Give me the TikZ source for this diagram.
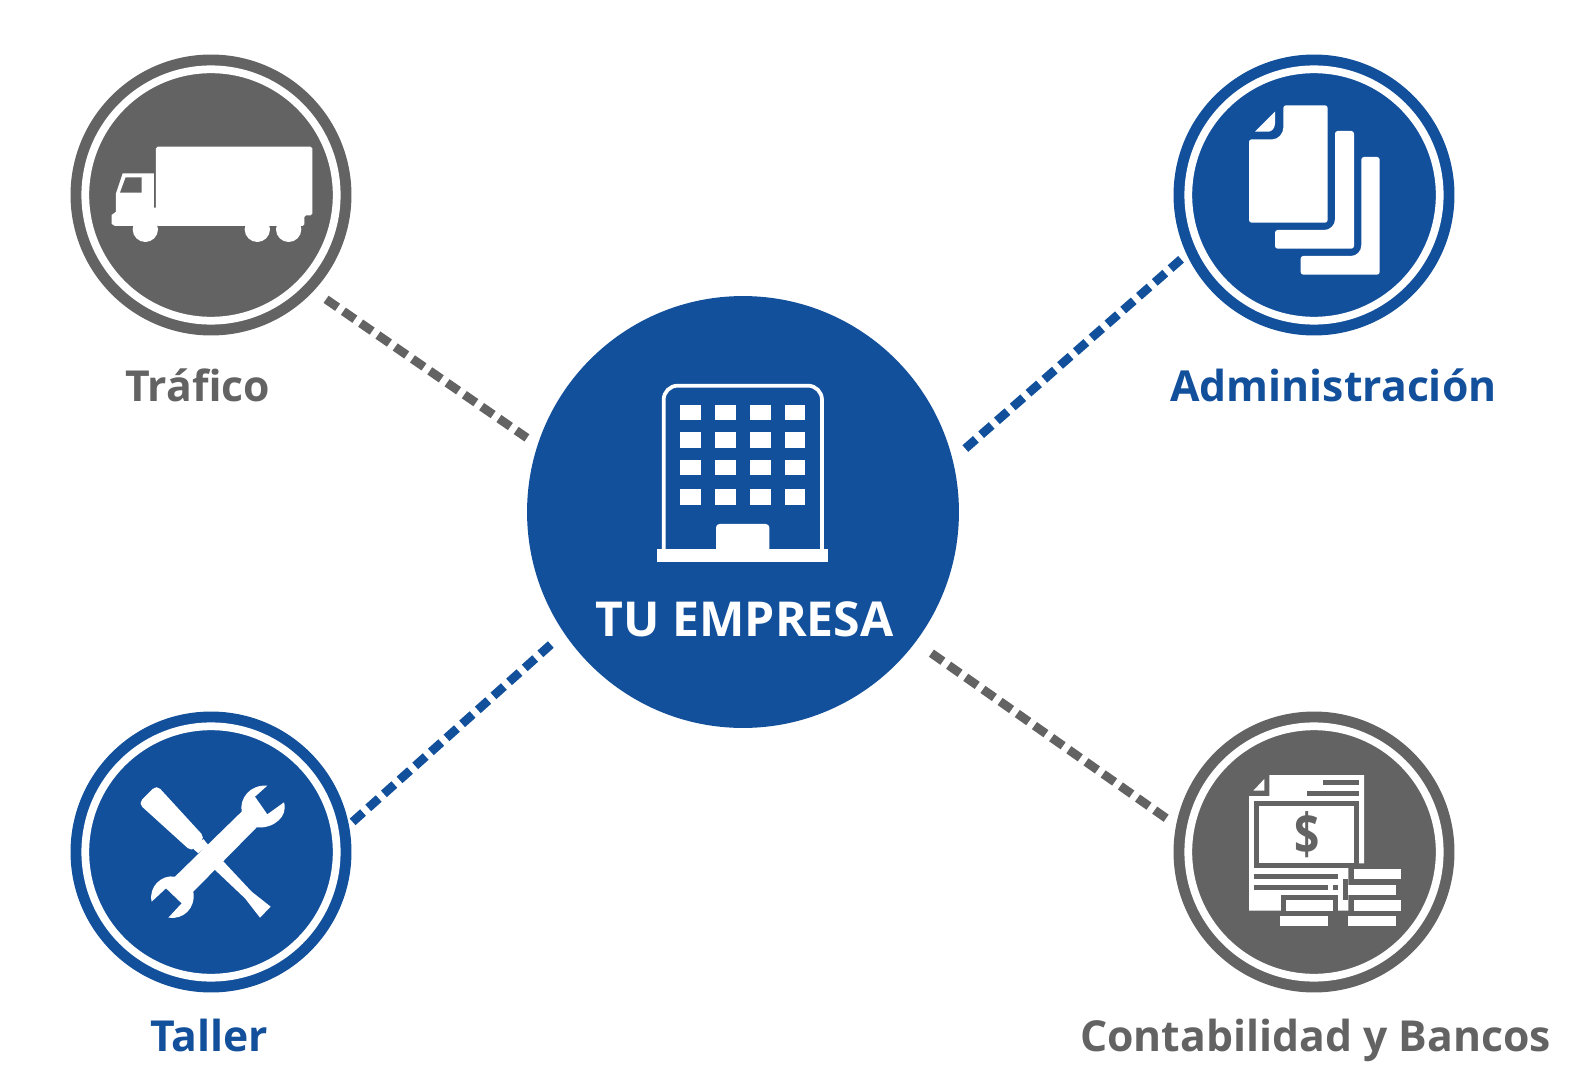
\documentclass[tikz,border=0pt]{standalone}
\usepackage{fontspec}
\setmainfont{Open Sans}
\definecolor{azul}{RGB}{19,80,156}
\definecolor{gris}{RGB}{99,99,99}
\tikzset{
  badge/.style={circle,inner sep=0pt,outer sep=0pt,minimum size=5.62cm,fill=#1},
  ring/.style={draw=white,line width=0.155cm},
  link/.style={draw=#1,line width=0.175cm,dash pattern=on 0.28cm off 0.14cm},
  caption/.style={anchor=base,font=\fontsize{24.3}{28}\selectfont\bfseries,text=#1},
}
\begin{document}
\begin{tikzpicture}
[x=0.02cm,y=-0.02cm]
\useasboundingbox (0,0) rectangle (1579,1078);

\node (empresa) at (743,512)[circle,inner sep=0pt,outer sep=0pt,minimum size=8.64cm,fill=azul]{};
\node (trafico) at (211,195)[badge=gris]{};
\node (admin) at (1314,195)[badge=azul]{};
\node (taller) at (211,852)[badge=azul]{};
\node (bancos) at (1314,852)[badge=gris]{};

\draw [ring] (trafico) circle (125.7);
\draw [ring] (admin) circle (125.7);
\draw [ring] (taller) circle (125.7);
\draw [ring] (bancos) circle (125.7);

\draw [link=gris,shorten <=0.3cm,shorten >=0.26cm] (trafico.-43) -- (empresa.162.5);
\draw [link=azul,shorten <=0.15cm,shorten >=0.34cm] (admin.205) -- (empresa.14.4);
\draw [link=azul,shorten <=0.1cm,shorten >=0.3cm] (taller.11) -- (empresa.214.3);
\draw [link=gris,shorten <=0.39cm,shorten >=0.16cm] (empresa.-37.6) -- (bancos.169.6);

\node (ltrafico) at (197.5,401.5)[caption=gris]{Tráfico};
\node (ladmin) at (1333.5,401)[caption=azul]{Administración};
\node (ltaller) at (209.5,1051)[caption=azul]{Taller};
\node (lbancos) at (1315.5,1051)[caption=gris]{Contabilidad y Bancos};
\node (lempresa) at (744.6,636)[caption=white,font=\fontsize{27.4}{32}\selectfont\bfseries]{TU EMPRESA};

% truck
\begin{scope}[shift={(60,40)},x=0.02cm/3,y=-0.02cm/3]
\fill [white,rounded corners=1pt] (288,320) -- (757,320) -- (757,526) -- (733,526) -- (733,558) -- (288,558) -- cycle;
\fill [white] (188,400) -- (282,400) -- (282,503) -- (288,503) -- (288,558) -- (165,558) -- (155,552) -- (155,525) -- (168,515) -- (168,460) -- cycle;
\fill [gris] (197,412) -- (245,412) -- (245,458) -- (180,458) -- cycle;
\fill [white] (256,568) circle (38);
\fill [white] (592,568) circle (38);
\fill [white] (686,568) circle (38);
\end{scope}

% papers
\begin{scope}[shift={(1155,40)},x=0.02cm/3,y=-0.02cm/3]
\fill [white,rounded corners=1.5pt] (385,196) -- (518,196) -- (518,548) -- (282,548) -- (282,298) -- (345,298) .. controls (370,298) and (385,280) .. (385,255) -- cycle;
\fill [white] (300,275) -- (360,215) -- (360,250) .. controls (360,265) and (350,275) .. (340,275) -- cycle;
\fill [white,rounded corners=1.5pt] (540,273) -- (597,273) -- (597,626) -- (360,626) -- (360,570) -- (500,570) .. controls (525,570) and (540,555) .. (540,530) -- cycle;
\fill [white,rounded corners=1.5pt] (619,351) -- (674,351) -- (674,704) -- (437,704) -- (437,648) -- (580,648) .. controls (605,648) and (619,633) .. (619,608) -- cycle;
\end{scope}

% tools
\begin{scope}[shift={(60,695)},x=0.02cm/3,y=-0.02cm/3]
\fill [white,rounded corners=3pt] (290,270) -- (235,325) -- (395,470) -- (435,428) -- cycle;
\fill [white] (400,462) -- (415,475) -- (445,450) -- (430,432) -- cycle;
\fill [white] (460,520) -- (555,610) -- (600,668) -- (632,635) -- (575,590) -- (488,497) -- cycle;
\fill [white] (545,350) .. controls (538,310) and (570,268) .. (622,272) -- (585,305) -- (622,358) -- (672,322) .. controls (685,365) and (640,402) .. (590,397) -- (400,590) .. controls (408,640) and (370,675) .. (325,668) -- (365,625) -- (318,580) -- (275,620) .. controls (265,575) and (305,538) .. (345,545) -- cycle;
\end{scope}

% ledger
\begin{scope}[shift={(1155,695)},x=0.02cm/3,y=-0.02cm/3]
\fill [white] (343,240) -- (627,240) -- (627,505) -- (580,505) -- (580,647) -- (282,647) -- (282,303) -- (343,303) -- cycle;
\fill [white] (295,287) -- (328,252) -- (328,287) -- cycle;
\fill [gris] (503,255) rectangle (612,270);
\fill [gris] (455,287) rectangle (612,303);
\fill [gris] (298,318) rectangle (612,520);
\fill [white] (313,333) rectangle (597,505);
\fill [gris] (298,538) rectangle (550,553);
\fill [gris] (298,569) rectangle (518,584);
\fill [gris] (534,569) rectangle (550,584);
\fill [gris] (565,553) rectangle (580,615);
\fill [gris] (378,600) rectangle (550,647);
\fill [white] (392,616) rectangle (534,647);
\fill [white] (376,663) rectangle (518,693);
\fill [white] (597,522) rectangle (738,553);
\fill [white] (580,569) rectangle (722,600);
\fill [white] (597,616) rectangle (738,647);
\fill [white] (580,663) rectangle (722,693);
\node (dolar) at (455,418)[text=gris,font=\fontsize{28}{30}\selectfont\bfseries]{\scalebox{0.9}[1.15]{\$}};
\end{scope}

% building
\begin{scope}[shift={(630,370)},x=0.02cm/3,y=-0.02cm/3]
\draw [white,line width=0.075cm,rounded corners=8pt] (101,540) -- (101,47) -- (576,47) -- (576,540);
\fill [white,rounded corners=2pt] (258,560) -- (258,462) -- (418,462) -- (418,560);
\fill [white] (80,536) rectangle (595,577);
\foreach \xa in {150,255,361,464}
  \foreach \ya in {105,187,270,358}
    \fill [white] (\xa,\ya) rectangle ++(62,46);
\end{scope}

\end{tikzpicture}
\end{document}
